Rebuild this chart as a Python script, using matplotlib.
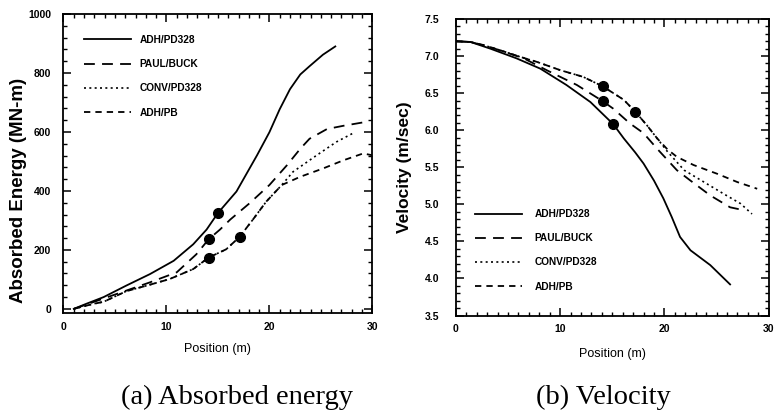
import matplotlib
matplotlib.use("Agg")
import matplotlib.pyplot as plt
from matplotlib.ticker import MultipleLocator

# ---------------- data: (a) absorbed energy ----------------
e_pos_adh = [1.0, 2.2, 3.9, 6.1, 8.4, 10.7, 12.6, 13.9, 15.0, 16.8, 18.8, 20.0, 21.0, 22.0, 23.0, 23.9, 25.2, 26.4]
e_adh = [0, 17, 40, 79, 118, 163, 219, 269, 325, 398, 521, 599, 677, 745, 795, 823, 862, 890]

e_pos_paul = [1.0, 2.9, 6.1, 8.4, 11.0, 12.9, 14.1, 15.2, 16.2, 18.1, 20.0, 21.7, 23.0, 23.9, 25.6, 27.2, 29.2]
e_paul = [0, 23, 62, 90, 124, 185, 236, 269, 303, 359, 420, 487, 543, 577, 610, 621, 633]

e_pos_conv = [1.0, 2.9, 3.9, 6.1, 8.1, 10.3, 12.6, 14.1, 15.8, 17.1, 18.4, 19.7, 21.2, 22.3, 23.9, 24.6, 26.5, 28.3]
e_conv = [0, 17, 24, 60, 79, 101, 135, 174, 202, 244, 303, 364, 420, 465, 504, 521, 566, 599]

e_pos_pb = [1.0, 2.9, 3.9, 6.1, 8.1, 10.3, 12.6, 14.1, 15.8, 17.1, 18.4, 19.7, 21.2, 23.0, 25.2, 27.2, 29.1, 30.0]
e_pb = [0, 17, 24, 60, 79, 101, 135, 174, 202, 244, 303, 364, 420, 448, 476, 504, 527, 521]

e_mark_pos = [15.0, 14.1, 14.1, 17.1]
e_mark_val = [325, 236, 174, 244]

# ---------------- data: (b) velocity ----------------
v_pos_adh = [0, 1.4, 3.3, 5.8, 8.1, 10.6, 12.9, 15.1, 16.1, 17.2, 18.0, 19.0, 19.9, 20.7, 21.5, 22.5, 24.4, 26.3]
v_adh = [7.20, 7.19, 7.10, 6.97, 6.83, 6.61, 6.38, 6.08, 5.89, 5.70, 5.55, 5.32, 5.08, 4.83, 4.56, 4.38, 4.18, 3.92]

v_pos_paul = [0, 1.4, 3.3, 6.5, 8.7, 11.6, 14.1, 15.1, 16.7, 18.0, 19.3, 21.2, 22.5, 24.4, 26.3, 27.3]
v_paul = [7.20, 7.19, 7.12, 6.97, 6.81, 6.61, 6.39, 6.29, 6.09, 5.96, 5.75, 5.46, 5.32, 5.12, 4.96, 4.93]

v_pos_conv = [0, 1.4, 2.6, 4.2, 6.15, 7.8, 10.0, 12.2, 14.1, 15.1, 16.1, 17.2, 18.3, 19.3, 20.3, 21.9, 23.8, 25.7, 27.3, 28.4]
v_conv = [7.20, 7.19, 7.15, 7.08, 6.99, 6.92, 6.81, 6.72, 6.59, 6.50, 6.41, 6.25, 6.07, 5.89, 5.71, 5.46, 5.30, 5.14, 5.01, 4.87]

v_pos_pb = [0, 1.4, 2.6, 4.2, 6.15, 7.8, 10.0, 12.2, 14.1, 15.1, 16.1, 17.2, 18.3, 19.3, 20.3, 21.2, 22.8, 25.1, 27.0, 28.9]
v_pb = [7.20, 7.19, 7.15, 7.08, 6.99, 6.92, 6.81, 6.72, 6.59, 6.50, 6.41, 6.25, 6.07, 5.89, 5.74, 5.64, 5.53, 5.41, 5.30, 5.21]

v_mark_pos = [15.1, 14.1, 14.1, 17.2]
v_mark_val = [6.08, 6.39, 6.59, 6.25]

series_names = ["ADH/PD328", "PAUL/BUCK", "CONV/PD328", "ADH/PB"]
x_ticks = [0, 10, 20, 30]
e_ticks = [0, 200, 400, 600, 800, 1000]
v_ticks = [3.5, 4.0, 4.5, 5.0, 5.5, 6.0, 6.5, 7.0, 7.5]

styles = [
    dict(linestyle="-", lw=1.3),
    dict(linestyle=(0, (6, 4)), lw=1.3),
    dict(linestyle=(0, (1.2, 2.0)), lw=1.2),
    dict(linestyle=(0, (3.5, 2.8)), lw=1.3),
]

plt.rcParams["font.family"] = ["Liberation Sans", "DejaVu Sans"]
fig = plt.figure(figsize=(7.78, 4.13), dpi=100)

ax1 = fig.add_axes([0.0816, 0.2414, 0.397, 0.7247])
ax2 = fig.add_axes([0.586, 0.236, 0.402, 0.718])


def style_axes(ax, ypad):
    ax.tick_params(which="both", direction="in", top=True, right=True, color="black")
    ax.tick_params(which="major", length=6, width=1.1, labelsize=7.5)
    ax.tick_params(axis="x", which="major", pad=6)
    ax.tick_params(axis="y", which="major", pad=ypad)
    ax.tick_params(which="minor", length=3, width=1.0)
    for s in ax.spines.values():
        s.set_linewidth(1.3)
    for lab in ax.get_xticklabels() + ax.get_yticklabels():
        lab.set_fontweight("bold")


leg_kw = dict(frameon=False, prop=dict(size=7.3, weight="bold"), handlelength=4.6,
              handletextpad=0.9, labelspacing=1.4, borderpad=0, borderaxespad=0)

# ---- (a) ----
edata = [(e_pos_adh, e_adh), (e_pos_paul, e_paul), (e_pos_conv, e_conv), (e_pos_pb, e_pb)]
for (xs, ys), st, nm in zip(edata, styles, series_names):
    ax1.plot(xs, ys, color="black", label=nm, **st)
ax1.plot(e_mark_pos, e_mark_val, "o", color="black", ms=7, ls="none")
ax1.set_xlim(0, 30)
ax1.set_ylim(-15, 1000)
ax1.set_xticks(x_ticks)
ax1.set_yticks(e_ticks)
ax1.xaxis.set_minor_locator(MultipleLocator(1))
ax1.yaxis.set_minor_locator(MultipleLocator(40))
style_axes(ax1, 9)
ax1.set_xlabel("Position (m)", fontsize=9, labelpad=8)
ax1.set_ylabel("Absorbed Energy (MN-m)", fontsize=13.5, fontweight="bold")
ax1.yaxis.set_label_coords(-0.118, 0.41)
ax1.legend(loc="upper left", bbox_to_anchor=(0.066, 0.93), **leg_kw)

# ---- (b) ----
vdata = [(v_pos_adh, v_adh), (v_pos_paul, v_paul), (v_pos_conv, v_conv), (v_pos_pb, v_pb)]
for (xs, ys), st, nm in zip(vdata, styles, series_names):
    ax2.plot(xs, ys, color="black", label=nm, **st)
ax2.plot(v_mark_pos, v_mark_val, "o", color="black", ms=7, ls="none")
ax2.set_xlim(0, 30)
ax2.set_ylim(3.5, 7.5)
ax2.set_xticks(x_ticks)
ax2.set_yticks(v_ticks)
ax2.xaxis.set_minor_locator(MultipleLocator(1))
ax2.yaxis.set_minor_locator(MultipleLocator(0.1))
style_axes(ax2, 12)
ax2.set_yticklabels([f"{t:.1f}" for t in v_ticks], fontweight="bold")
ax2.set_xlabel("Position (m)", fontsize=9, labelpad=10)
ax2.set_ylabel("Velocity (m/sec)", fontsize=12.5, fontweight="bold")
ax2.yaxis.set_label_coords(-0.14, 0.5)
ax2.legend(loc="upper left", bbox_to_anchor=(0.061, 0.359), **dict(leg_kw, handletextpad=1.3))

fig.text(0.304, 0.037, "(a) Absorbed energy", family=["Liberation Serif", "DejaVu Serif"],
         fontsize=20.5, ha="center", va="center")
fig.text(0.775, 0.037, "(b) Velocity", family=["Liberation Serif", "DejaVu Serif"],
         fontsize=20.5, ha="center", va="center")

fig.savefig("out.png", dpi=100)
